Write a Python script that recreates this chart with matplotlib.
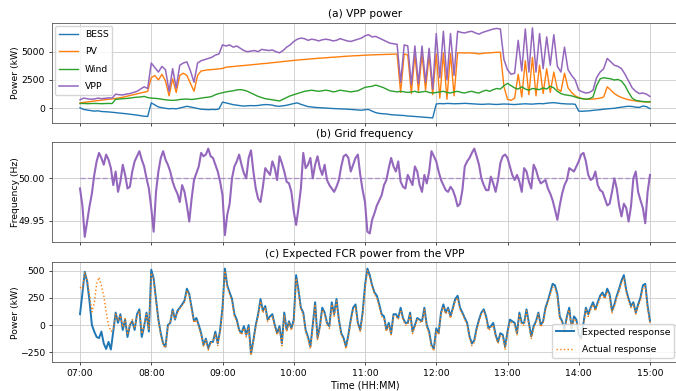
import numpy as np
import pandas as pd
import matplotlib
matplotlib.use("Agg")
import matplotlib.pyplot as plt
import matplotlib.dates as mdates

# sampling times: 3 min for the power flows, 2 min for frequency / FCR
t_power = pd.date_range("2021-06-01 07:00", "2021-06-01 15:00", freq="3min")
t_fast = pd.date_range("2021-06-01 07:00", "2021-06-01 15:00", freq="2min")

# (a) VPP power, kW
bess = [50, -100, -150, -200, -250, -220, -280, -300, -320, -350,
        -380, -420, -450, -480, -520, -560, -600, -650, -700, -720,
        480, 300, 120, 50, 0, -40, -20, -50, 30, 100,
        180, 120, 50, -20, -80, -100, -120, -100, -110, -60,
        550, 480, 400, 320, 280, 230, 200, 220, 240, 230,
        250, 300, 330, 320, 280, 200, 180, 220, 270, 350,
        420, 480, 350, 250, 150, 120, 80, 60, 40, 20,
        0, -20, -30, -50, -60, -80, -100, -120, -150, -170,
        -120, -100, -250, -380, -450, -480, -500, -550, -580, -600,
        -620, -640, -680, -700, -720, -750, -770, -800, -820, -850,
        380, 420, 400, 430, 420, 400, 410, 420, 440, 420,
        400, 380, 360, 350, 370, 380, 350, 340, 360, 380,
        370, 350, 330, 360, 380, 400, 380, 370, 400, 420,
        400, 450, 480, 500, 460, 420, 400, 380, 380, 360,
        -250, -260, -240, -220, -180, -150, -120, -80, -50, -20,
        0, 60, 100, 150, 180, 160, 100, 80, 200, 150,
        -30]
pv = [480, 520, 560, 600, 640, 680, 720, 760, 800, 830,
      870, 920, 980, 1050, 1120, 1200, 1280, 1350, 1420, 1500,
      2700, 2900, 2500, 3000, 2400, 1100, 2600, 1400, 2900, 3100,
      2900, 2200, 1500, 2900, 3300, 3350, 3400, 3420, 3450, 3480,
      3520, 3630, 3660, 3690, 3720, 3750, 3780, 3810, 3840, 3870,
      3900, 3940, 3960, 3990, 4030, 4060, 4090, 4130, 4160, 4200,
      4230, 4260, 4290, 4310, 4340, 4370, 4390, 4420, 4440, 4460,
      4490, 4510, 4530, 4550, 4580, 4600, 4620, 4640, 4650, 4670,
      4690, 4700, 4720, 4730, 4740, 4750, 4760, 4770, 4780, 4790,
      1400, 4800, 4700, 1300, 4750, 1500, 4800, 1600, 4700, 1200,
      4800, 900, 4900, 800, 4850, 1100, 4900, 4900, 4880, 4900,
      4880, 4850, 4800, 4850, 4880, 4900, 4920, 4950, 4950, 1900,
      800, 700, 900, 3000, 1000, 4200, 1200, 4500, 1100, 3800,
      1300, 3500, 1400, 3200, 1700, 1500, 3100, 1800, 1400, 1100,
      950, 850, 800, 800, 820, 850, 900, 1000, 1900, 1600,
      1300, 1100, 950, 850, 750, 700, 650, 600, 580, 560,
      550]
wind = [420, 430, 410, 420, 430, 420, 410, 420, 430, 420,
        800, 820, 850, 870, 900, 950, 980, 1000, 1050, 950,
        900, 880, 850, 800, 750, 720, 700, 720, 780, 800,
        820, 780, 800, 850, 900, 950, 980, 1050, 1200, 1300,
        1380, 1450, 1500, 1550, 1620, 1650, 1600, 1500, 1350, 1200,
        1050, 950, 850, 800, 750, 700, 650, 800, 950, 1100,
        1200, 1300, 1400, 1500, 1550, 1600, 1550, 1500, 1550, 1600,
        1550, 1450, 1500, 1600, 1550, 1500, 1450, 1500, 1550, 1700,
        1850, 1900, 1950, 2050, 1950, 1850, 1700, 1550, 1500, 1450,
        1500, 1450, 1400, 1450, 1500, 1400, 1450, 1500, 1400, 1350,
        1400, 1450, 1500, 1400, 1350, 1450, 1500, 1400, 1350, 1450,
        1500, 1400, 1350, 1500, 1600, 1500, 1650, 1750, 1700, 2000,
        2200, 2000, 1800, 1700, 1900, 1700, 1600, 1750, 1700, 1650,
        1800, 1700, 1950, 1800, 1500, 1300, 1200, 1150, 1100, 1000,
        900, 850, 800, 850, 1000, 2000, 2600, 2700, 2650, 2600,
        2500, 2550, 2400, 2000, 1400, 900, 700, 650, 600, 580,
        570]
vpp = [750, 900, 850, 800, 820, 900, 850, 880, 920, 900,
       1250, 1200, 1180, 1250, 1300, 1400, 1500, 1700, 1900, 1750,
       4000, 3600, 3200, 3700, 3400, 1500, 3500, 1800, 3800, 4000,
       4100, 3300, 2300, 4000, 4200, 4300, 4400, 4500, 4700, 4800,
       5600, 5500, 5600, 5400, 5500, 5300, 5100, 5000, 5050, 5100,
       5000, 5200, 5150, 5100, 5150, 5000, 4900, 5100, 5400, 5600,
       5900, 6100, 6200, 6150, 6000, 6100, 6050, 5950, 6050, 6100,
       6050, 5950, 6000, 6150, 6050, 5950, 5900, 6000, 6100, 6200,
       6400, 6500, 6300, 6350, 6200, 6050, 5900, 5750, 5700, 5650,
       2300, 5600, 5500, 2100, 5500, 2200, 5500, 2300, 5300, 1700,
       6600, 2700, 6800, 2500, 6600, 2900, 6800, 6700, 6650, 6750,
       6800, 6650, 6550, 6700, 6800, 6900, 7000, 7050, 7000, 4300,
       3400, 3000, 3100, 6000, 3300, 7000, 3200, 7100, 3200, 6600,
       3500, 6300, 3800, 6500, 3700, 3200, 5400, 3400, 2900, 2500,
       1600, 1450, 1350, 1400, 1600, 2700, 3200, 3500, 4400, 4100,
       3800, 3700, 3500, 3000, 2400, 1800, 1500, 1300, 1350, 1250,
       1050]

# (b) grid frequency, Hz
f_nom = 50.0
freq = [49.988, 49.968, 49.931, 49.949, 49.967, 49.982, 50.004, 50.020, 50.030, 50.024,
        50.016, 50.028, 50.022, 50.012, 49.992, 50.008, 49.984, 49.996, 50.016, 50.004,
        49.988, 49.990, 50.008, 50.020, 50.026, 50.032, 50.022, 50.014, 50.000, 49.988,
        49.965, 49.937, 49.984, 50.008, 50.024, 50.032, 50.022, 50.016, 50.008, 49.996,
        49.988, 49.982, 49.972, 49.992, 49.984, 49.968, 49.949, 49.976, 49.998, 50.006,
        50.014, 50.030, 50.026, 50.028, 50.035, 50.026, 50.024, 50.016, 50.008, 49.996,
        49.980, 49.933, 49.957, 49.970, 50.000, 50.014, 50.020, 50.028, 50.016, 50.006,
        50.000, 50.024, 50.033, 50.008, 49.988, 49.976, 49.972, 49.990, 50.012, 50.008,
        50.004, 50.020, 50.012, 49.998, 50.026, 50.018, 50.008, 49.996, 49.994, 49.984,
        49.961, 49.945, 49.965, 49.988, 50.030, 50.012, 50.016, 50.024, 50.000, 50.016,
        50.026, 50.012, 50.004, 50.016, 49.998, 49.992, 49.988, 49.984, 49.990, 49.998,
        50.014, 50.026, 50.028, 50.024, 50.008, 50.016, 50.024, 50.028, 50.004, 49.986,
        49.972, 49.937, 49.935, 49.951, 49.959, 49.968, 49.974, 49.980, 49.992, 49.998,
        50.012, 50.024, 50.014, 50.008, 50.020, 49.996, 49.990, 49.988, 50.004, 49.998,
        49.992, 50.014, 50.008, 49.992, 49.984, 50.004, 49.994, 50.008, 50.032, 50.026,
        50.020, 50.008, 49.998, 49.992, 49.986, 49.984, 49.990, 49.986, 49.978, 49.967,
        49.970, 49.986, 50.014, 50.020, 50.024, 50.030, 50.035, 50.026, 50.016, 50.000,
        49.992, 49.986, 49.986, 50.002, 49.994, 49.984, 49.998, 50.018, 50.026, 50.028,
        50.024, 50.014, 50.004, 49.998, 50.004, 49.996, 49.984, 50.012, 50.008, 49.996,
        49.988, 50.016, 50.010, 50.000, 49.994, 49.996, 49.998, 49.988, 49.982, 49.974,
        49.963, 49.951, 49.968, 49.982, 49.992, 49.998, 50.012, 50.010, 50.008, 50.014,
        50.020, 50.028, 50.030, 50.020, 50.004, 49.998, 50.000, 50.008, 49.992, 49.986,
        49.984, 49.976, 49.968, 49.970, 49.984, 50.000, 49.988, 49.968, 49.955, 49.970,
        49.965, 49.949, 49.967, 50.000, 50.008, 49.984, 49.974, 49.965, 49.947, 49.984,
        50.004]

# (c) FCR power, kW
fcr_expected = [100, 290, 490, 400, 220, 0, -60, -110, -120, -60,
                -170, -220, -155, -225, -60, 115, 20, 100, -45, 50,
                -110, 0, 35, -45, 100, 145, -110, -10, 115, -60,
                510, 430, 240, 50, -75, -170, -200, 0, 20, 145,
                50, 130, 160, 190, 225, 335, 285, 160, 35, 65,
                0, -75, -185, -125, -215, -155, -155, -60, -170, -45,
                160, 520, 365, 300, 240, 100, 50, -45, -75, -10,
                -90, 0, -265, -140, 0, 100, 240, 130, 175, 50,
                80, 100, 0, -75, -10, -170, 115, -45, 35, -30,
                50, 460, 320, 160, 115, -45, -110, -200, 0, 210,
                -120, -10, 160, 115, 20, -10, 210, 100, 240, 50,
                -75, -120, -200, -90, 50, 160, 190, 20, -45, 115,
                365, 520, 460, 365, 300, 270, 190, 100, 80, -45,
                20, -75, 100, 100, 65, 160, 65, 20, 20, 115,
                -60, 0, 65, 50, 35, 160, 0, -60, -185, -215,
                -30, -75, 115, 190, 115, 160, 80, 160, 240, 270,
                160, 115, 65, 20, -105, -170, -140, -30, 50, 115,
                145, 80, -30, -10, 20, -90, -155, -75, -90, -200,
                -60, 50, 35, 20, -75, 115, 20, 20, 145, 20,
                -105, -10, 35, 115, 0, 35, 160, 225, 300, 380,
                365, 285, 80, 35, -45, 80, 160, -30, 80, 50,
                -90, -120, 20, 160, 100, 160, 210, 145, 210, 270,
                300, 255, 335, 285, 130, 190, 270, 335, 410, 460,
                320, 240, 175, 210, 115, 190, 255, 365, 380, 175,
                35]
fcr_actual = [350, 330, 480, 420, 280, 120, 200, 380, 440, 360,
              270, 120, 0, -60, -40, 100, 40, 90, -20, 60,
              -90, 10, 50, -30, 80, 130, -80, 0, 100, -40,
              480, 420, 220, 40, -90, -190, -210, -20, 30, 130,
              60, 110, 150, 180, 210, 320, 270, 140, 20, 50,
              -20, -90, -200, -140, -230, -170, -140, -80, -190, -60,
              140, 500, 350, 280, 220, 80, 30, -60, -90, -30,
              -110, -20, -280, -150, -20, 80, 220, 110, 160, 30,
              60, 80, -20, -90, -30, -190, 90, -60, 20, -50,
              30, 430, 300, 140, 100, -60, -130, -220, -20, 190,
              -140, -30, 140, 100, 0, -30, 190, 80, 220, 30,
              -90, -140, -220, -110, 30, 140, 170, 0, -60, 90,
              340, 500, 440, 350, 280, 250, 170, 80, 60, -60,
              0, -90, 80, 80, 50, 140, 50, 0, 0, 100,
              -80, -20, 50, 30, 20, 140, -20, -80, -200, -240,
              -50, -90, 100, 170, 100, 140, 60, 140, 220, 250,
              140, 100, 50, 0, -120, -190, -160, -50, 30, 100,
              130, 60, -50, -30, 0, -110, -170, -90, -110, -230,
              -80, 30, 20, 0, -90, 100, 0, 0, 130, 0,
              -130, -30, 20, 100, -20, 20, 140, 210, 280, 350,
              340, 260, 60, 20, -70, 60, 140, -50, 60, 30,
              -110, -140, 0, 140, 80, 140, 190, 130, 190, 250,
              280, 240, 310, 260, 110, 170, 250, 310, 390, 430,
              300, 220, 160, 190, 100, 170, 230, 340, 360, 150,
              20]

fs = 6.7
fs_title = 7.6
plt.rcParams["font.size"] = fs
plt.rcParams["axes.linewidth"] = 0.6

fig = plt.figure(figsize=(6.76, 3.91), dpi=100)
left, width, height = 0.0762, 0.9275, 0.2558
ax1 = fig.add_axes([left, 0.6862, width, height])
ax2 = fig.add_axes([left, 0.3803, width, height], sharex=ax1)
ax3 = fig.add_axes([left, 0.0734, width, height], sharex=ax1)

lw = 1.0
ax1.plot(t_power, bess, color="tab:blue", lw=lw, label="BESS")
ax1.plot(t_power, pv, color="tab:orange", lw=lw, label="PV")
ax1.plot(t_power, wind, color="tab:green", lw=lw, label="Wind")
ax1.plot(t_power, vpp, color="tab:purple", lw=1.1, label="VPP")
ax1.set_ylim(-1270, 7560)
ax1.set_yticks([0, 2500, 5000])
ax1.set_ylabel("Power (kW)", fontsize=fs)
ax1.set_title("(a) VPP power", fontsize=fs_title, pad=4)
ax1.legend(loc="upper left", fontsize=fs, borderaxespad=0.4, labelspacing=0.9)

ax2.plot(t_fast, freq, color="tab:purple", lw=1.5)
ax2.hlines(f_nom, t_fast[0], t_fast[-1], colors="tab:purple", linestyles="--", lw=1.0, alpha=0.6)
ax2.set_ylim(49.9245, 50.0425)
ax2.set_yticks([49.95, 50.0])
ax2.yaxis.set_major_formatter(matplotlib.ticker.FormatStrFormatter("%.2f"))
ax2.set_ylabel("Frequency (Hz)", fontsize=fs)
ax2.set_title("(b) Grid frequency", fontsize=fs_title, pad=4)

ax3.plot(t_fast, fcr_expected, color="tab:blue", lw=1.4, label="Expected response")
ax3.plot(t_fast, fcr_actual, color="tab:orange", lw=1.0, ls=":", label="Actual response")
ax3.set_ylim(-343, 578)
ax3.set_yticks([-250, 0, 250, 500])
ax3.set_ylabel("Power (kW)", fontsize=fs)
ax3.set_title("(c) Expected FCR power from the VPP", fontsize=fs_title, pad=4)
ax3.legend(loc="lower right", fontsize=fs, borderaxespad=0.5, labelspacing=0.9)
ax3.set_xlabel("Time (HH:MM)", fontsize=6.9, labelpad=2)

ax3.xaxis.set_major_locator(mdates.HourLocator())
ax3.xaxis.set_major_formatter(mdates.DateFormatter("%H:%M"))

for ax in (ax1, ax2, ax3):
    ax.grid(True, color="#cccccc", lw=0.6)
    ax.set_axisbelow(True)
    ax.tick_params(labelsize=fs, length=2.5, width=0.5, pad=2.3)
    ax.yaxis.set_label_coords(-0.051, 0.5)
    for s in ax.spines.values():
        s.set_edgecolor("#555555")
for ax in (ax1, ax2):
    ax.tick_params(labelbottom=False)

fig.savefig("out.png", dpi=100)
